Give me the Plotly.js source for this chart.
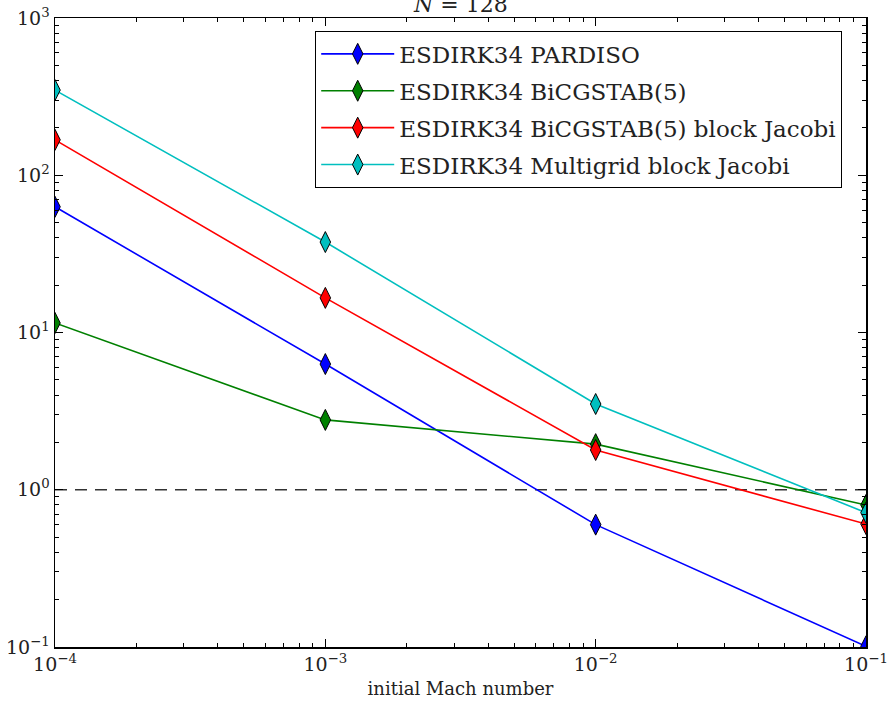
<!DOCTYPE html>
<html>
<head>
<meta charset="utf-8">
<script src="https://cdn.plot.ly/plotly-3.0.1.min.js"></script>
<style>html,body{margin:0;padding:0;background:#fff;}#chart{width:890px;height:701px;}</style>
</head>
<body>
<div id="chart"></div>
<script>
const mach = [1e-4, 1e-3, 1e-2, 1e-1];
const pardiso = [63, 6.3, 0.60, 0.101];
const bicgstab = [11.5, 2.78, 1.95, 0.80];
const bicgstabJacobi = [168, 16.6, 1.79, 0.605];
const multigridJacobi = [348, 37.6, 3.51, 0.715];
const names = ["ESDIRK34 PARDISO", "ESDIRK34 BiCGSTAB(5)", "ESDIRK34 BiCGSTAB(5) block Jacobi", "ESDIRK34 Multigrid block Jacobi"];
const colors = ["#0000ff", "#008000", "#ff0000", "#00bfbf"];
const series = [pardiso, bicgstab, bicgstabJacobi, multigridJacobi];
const yTickVals = [0.1, 1, 10, 100, 1000];
const yTickText = ["10<sup>−1</sup>", "10<sup>0</sup>", "10<sup>1</sup>", "10<sup>2</sup>", "10<sup>3</sup>"];
const xTickVals = [1e-4, 1e-3, 1e-2, 1e-1];
const xTickText = ["10<sup>−4</sup>", "10<sup>−3</sup>", "10<sup>−2</sup>", "10<sup>−1</sup>"];
const refLevel = 1;

function minorVals(lo, hi) {
  const v = [];
  for (let e = lo; e < hi; e++) for (let d = 2; d <= 9; d++) v.push(d * Math.pow(10, e));
  return v;
}

const font = "'DejaVu Serif'";
const traces = series.map((s, i) => ({
  x: mach, y: s, name: names[i], type: "scatter", mode: "lines+markers",
  legendgroup: "g" + i,
  line: {color: colors[i], width: 1.6},
  marker: {symbol: "diamond-tall", size: 15, color: colors[i], line: {color: "#000", width: 1}},
  cliponaxis: true
}));

const axisCommon = {
  type: "log", showgrid: false, zeroline: false, showline: true, linecolor: "#000", linewidth: 1.5,
  mirror: "ticks", ticks: "inside", ticklen: 8, tickwidth: 1, tickcolor: "#000",
  tickmode: "array", tickfont: {family: font, size: 19, color: "#222"}
};

const layout = {
  width: 890, height: 701,
  margin: {l: 55, r: 24, t: 18, b: 54},
  paper_bgcolor: "#fff", plot_bgcolor: "#fff",
  showlegend: true,
  xaxis: Object.assign({}, axisCommon, {
    range: [-4, -1], tickvals: xTickVals, ticktext: xTickText,
    minor: {tickmode: "array", tickvals: minorVals(-4, -1), ticks: "inside", ticklen: 4, tickcolor: "#000", showgrid: false},
    title: {text: "initial Mach number", font: {family: font, size: 18, color: "#222"}, standoff: 8}
  }),
  yaxis: Object.assign({}, axisCommon, {
    range: [-1, 3], tickvals: yTickVals, ticktext: yTickText,
    minor: {tickmode: "array", tickvals: minorVals(-1, 3), ticks: "inside", ticklen: 4, tickcolor: "#000", showgrid: false}
  }),
  shapes: [{type: "line", xref: "paper", x0: 0, x1: 1, yref: "y", y0: refLevel, y1: refLevel,
    line: {color: "#333", width: 1.5, dash: "12px,8px"}, layer: "below"}],
  annotations: [{xref: "paper", yref: "paper", x: 0.5, y: 1, yanchor: "bottom", yshift: -1, showarrow: false,
    text: "<i>N</i> = 128", font: {family: font, size: 22, color: "#222"}}],
  legend: {x: 0.3206, y: 0.979, xanchor: "left", yanchor: "top", bgcolor: "#fff", bordercolor: "#000", borderwidth: 1.2,
    font: {family: font, size: 23, color: "#222"}, traceorder: "grouped", tracegroupgap: 4, itemwidth: 73}
};

Plotly.newPlot("chart", traces, layout, {displayModeBar: false, staticPlot: true});
</script>
</body>
</html>
